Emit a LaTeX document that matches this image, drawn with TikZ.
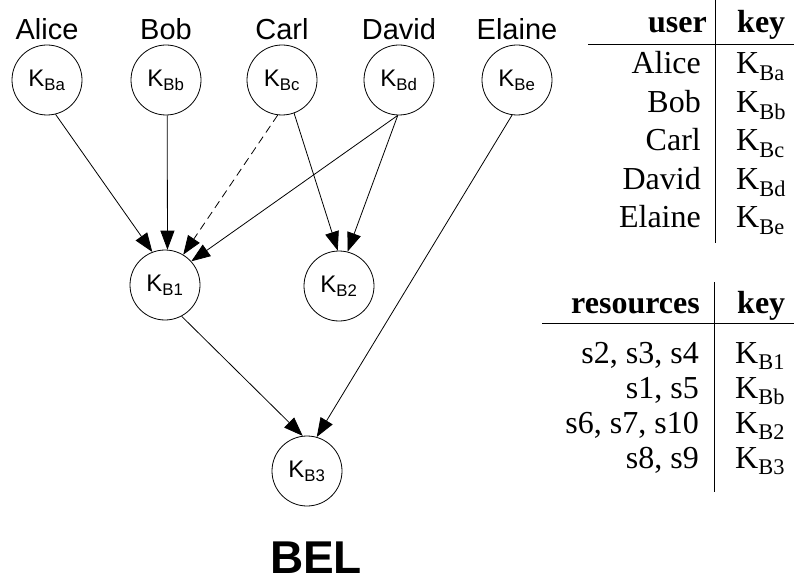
\documentclass[tikz,border=0pt]{standalone}
\usepackage{fontspec}
\setmainfont{Liberation Sans}
\newfontfamily\tabfont{Liberation Serif}
\usetikzlibrary{arrows.meta}
\newcommand{\keyname}[1]{K\textsubscript{#1}}
\begin{document}
\begin{tikzpicture}[x=1pt,y=-1pt,
  keynode/.style={circle,draw,line width=0.8pt,minimum size=70pt,inner sep=0pt,
    font=\fontsize{24}{24}\selectfont},
  username/.style={font=\fontsize{29}{29}\selectfont,anchor=base},
  edge/.style={line width=0.8pt,-{Triangle[length=19pt,width=14pt]}},
  tabtext/.style={font=\tabfont\fontsize{32}{32}\selectfont,inner sep=0pt},
  tabhead/.style={font=\tabfont\bfseries\fontsize{32}{32}\selectfont,inner sep=0pt},
  rule/.style={line width=1pt}]
\useasboundingbox (0,0) rectangle (794,585);

% users and their keys
\node[keynode] (ka) at (47,80) {\keyname{Ba}};
\node[keynode] (kb) at (166,80) {\keyname{Bb}};
\node[keynode] (kc) at (282,80) {\keyname{Bc}};
\node[keynode] (kd) at (399,80) {\keyname{Bd}};
\node[keynode] (ke) at (517,80) {\keyname{Be}};
\node[username] (na) at (47,40) {Alice};
\node[username] (nb) at (166,40) {Bob};
\node[username] (nc) at (282,40) {Carl};
\node[username] (nd) at (399,40) {David};
\node[username] (ne) at (517,40) {Elaine};

% derived keys
\node[keynode] (k1) at (165,285) {\keyname{B1}};
\node[keynode] (k2) at (339,286) {\keyname{B2}};
\node[keynode] (k3) at (307,471) {\keyname{B3}};

% derivation edges
\draw[edge] (ka.-76) -- (k1.111);
\draw[edge] (kb.-88) -- (k1.86);
\draw[edge,dashed,dash pattern=on 8pt off 5pt] (kc.-97) -- (k1.59);
\draw[edge] (kc.-70) -- (k2.92);
\draw[edge] (kd.-92) -- (k1.42);
\draw[edge] (kd.-92) -- (k2.76);
\draw[edge] (ke.-98) -- (k3.74);
\draw[edge] (k1.-62) -- (k3.97);

\node[font=\bfseries\fontsize{46}{46}\selectfont,anchor=base,inner sep=0pt,text depth=0pt] (bel) at (316,573) {BEL};

% user table
\draw[rule] (715,0) -- (715,243);
\draw[rule] (588,45) -- (794,45);
\node[tabhead,anchor=base east] (uh) at (707,33) {user};
\node[tabhead,anchor=base west] (kh) at (737,33) {key};
\foreach \name/\k [count=\i from 0] in {Alice/Ba,Bob/Bb,Carl/Bc,David/Bd,Elaine/Be}{
  \node[tabtext,anchor=base east] (u\i) at (701,74+38.5*\i) {\name};
  \node[tabtext,anchor=base west] (uk\i) at (736,74+38.5*\i) {\keyname{\k}};
}

% resource table
\draw[rule] (714,282) -- (714,492);
\draw[rule] (542,323) -- (794,323);
\node[tabhead,anchor=base east] (rh) at (700,313) {resources};
\node[tabhead,anchor=base west] (rk) at (737,313) {key};
\foreach \res/\k [count=\i from 0] in {{s2, s3, s4}/B1,{s1, s5}/Bb,{s6, s7, s10}/B2,{s8, s9}/B3}{
  \node[tabtext,anchor=base east] (r\i) at (699,363+35*\i) {\res};
  \node[tabtext,anchor=base west] (rk\i) at (735,363+35*\i) {\keyname{\k}};
}
\end{tikzpicture}
\end{document}
